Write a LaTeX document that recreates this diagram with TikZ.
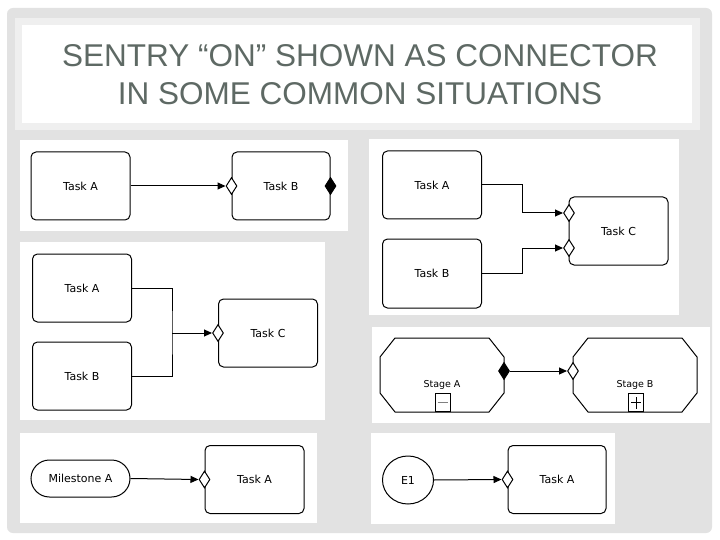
\documentclass[tikz,border=0pt]{standalone}
\usepackage{fontspec}
\setmainfont{Liberation Sans}
\newfontfamily\dvfont{DejaVu Sans}
\usetikzlibrary{shapes.geometric,arrows.meta}
\definecolor{bggray}{HTML}{E2E2E2}
\definecolor{bandgray}{HTML}{EFEFEF}
\definecolor{titlecol}{HTML}{5E6964}
\begin{document}
\begin{tikzpicture}[x=1pt,y=-1pt,
  task/.style={draw, line width=1pt, rounded corners=5pt, minimum width=99pt, minimum height=68pt, inner sep=0pt, font=\dvfont\fontsize{11}{13}\selectfont},
  sentry/.style={diamond, draw, fill=white, line width=1pt, minimum width=11pt, minimum height=17pt, inner sep=0pt},
  exitc/.style={sentry, fill=black},
  conn/.style={line width=1pt, -{Triangle[length=8pt,width=7pt]}},
  panel/.style={fill=white},
  stage/.style={line width=1pt},
  stagetext/.style={font=\dvfont\fontsize{9.5}{11}\selectfont, inner sep=0pt},
  minibox/.style={draw, line width=0.8pt, minimum width=15pt, minimum height=18pt, inner sep=0pt, anchor=south},
  titletext/.style={anchor=base, text=titlecol, font=\fontsize{31.5}{38}\selectfont, inner sep=0pt}
  ]
\useasboundingbox (0,0) rectangle (720,540);
\fill[white] (0,0) rectangle (720,540);
\fill[bggray, rounded corners=6pt] (7,8) rectangle (712,533);
\fill[bandgray] (15,18) rectangle (700,130);
\fill[white] (22,25) rectangle (692,123);
\node[titletext] (t1) at (360,67) {SENTRY “ON” SHOWN AS CONNECTOR};
\node[titletext] (t2) at (360,105) {IN SOME COMMON SITUATIONS};

% panels
\fill[panel] (20,140) rectangle (348,231);
\fill[panel] (369,139) rectangle (679,315);
\fill[panel] (20,242) rectangle (325,420);
\fill[panel] (372,327) rectangle (710,423);
\fill[panel] (20,433) rectangle (317,523);
\fill[panel] (371,433) rectangle (615,524);

% panel 1
\node[task] (p1a) at (80.5,186) {Task A};
\node[task, minimum width=98pt] (p1b) at (281,186) {Task B};
\node[sentry] (p1s) at (p1b.west) {};
\node[exitc] (p1x) at (p1b.east) {};
\draw[conn] (p1a.east) -- (p1s.west);

% panel 2
\node[task] (p2a) at (432,185) {Task A};
\node[task, minimum height=69pt] (p2b) at (432,273.5) {Task B};
\node[task] (p2c) at (618.5,231) {Task C};
\node[sentry] (p2s1) at (569,213) {};
\node[sentry] (p2s2) at (569,248) {};
\draw[conn] (p2a.east) -- ++(40,0) |- (p2s1.west);
\draw[conn] (p2b.east) -- ++(40,0) |- (p2s2.west);

% panel 3
\node[task] (p3a) at (82,288) {Task A};
\node[task] (p3b) at (82,376) {Task B};
\node[task] (p3c) at (268,333) {Task C};
\node[sentry] (p3s) at (p3c.west) {};
\coordinate (p3m) at (172,333);
\draw[line width=1pt] (p3a.east) -| (p3m) |- (p3b.east);
\draw[conn] (p3m) -- (p3s.west);

% panel 4
\draw[stage] (395,338) -- (489,338) -- (504,357) -- (504,393) -- (489,412) -- (395,412) -- (380,393) -- (380,357) -- cycle;
\draw[stage] (588,338) -- (682,338) -- (697,357) -- (697,393) -- (682,412) -- (588,412) -- (573,393) -- (573,357) -- cycle;
\node[stagetext] (p4ta) at (442,385) {Stage A};
\node[stagetext] (p4tb) at (635,385) {Stage B};
\node[exitc] (p4x) at (504,371) {};
\node[sentry] (p4s) at (573,371) {};
\draw[conn] (p4x.east) -- (p4s.west);
\node[minibox] (p4m) at (442.5,412) {};
\draw[line width=0.8pt, gray] ([xshift=-5pt]p4m.center) -- ([xshift=5pt]p4m.center);
\node[minibox] (p4p) at (636,412) {};
\draw[line width=0.8pt] ([xshift=-5pt]p4p.center) -- ([xshift=5pt]p4p.center);
\draw[line width=0.8pt] ([yshift=-6pt]p4p.center) -- ([yshift=6pt]p4p.center);

% panel 5
\node[draw, line width=1pt, rounded corners=18.5pt, minimum width=99pt, minimum height=37pt, inner sep=0pt, font=\dvfont\fontsize{11}{13}\selectfont] (p5m) at (80.5,478.5) {Milestone A};
\node[task] (p5t) at (254.5,479.5) {Task A};
\node[sentry] (p5s) at (p5t.west) {};
\draw[conn] (p5m.east) -- (p5s.west);

% panel 6
\node[ellipse, draw, line width=1pt, minimum width=51pt, minimum height=48pt, inner sep=0pt, font=\dvfont\fontsize{11}{13}\selectfont] (p6e) at (408,480) {E1};
\node[task, minimum width=98pt] (p6t) at (557,479.5) {Task A};
\node[sentry] (p6s) at (p6t.west) {};
\draw[conn] (p6e.east) -- (p6s.west);
\end{tikzpicture}
\end{document}
